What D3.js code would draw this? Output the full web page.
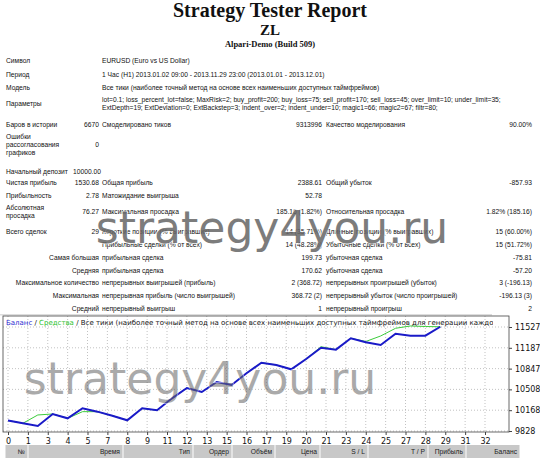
<!DOCTYPE html>
<html><head><meta charset="utf-8">
<script src="https://cdn.jsdelivr.net/npm/d3@7"></script>
<style>
body{margin:0;background:#fff}
text{font-family:"Liberation Sans",Arial,sans-serif;font-size:6.7px;fill:#111}
.ttl{font-family:"Liberation Serif","Times New Roman",serif;font-weight:bold}
.wm{font-family:"DejaVu Sans",sans-serif;font-size:44px;fill:#666;stroke:#fff;stroke-width:1.5px;paint-order:stroke;opacity:.85}
.hdr{font-size:6.7px;fill:#222}
</style></head><body>
<svg id="c" width="540" height="458"></svg>
<script>
// balance / equity by trade number
const BALANCE = [10000, 9954, 9910, 10106, 10035, 10199, 10144, 10078, 10003, 10199, 10166, 10362, 10530, 10465, 10629, 10580, 10771, 10944, 10906, 10836, 11005, 11189, 11157, 11343, 11277, 11233, 11418, 11385, 11385, 11531];
const EQUITY  = [10000, 9954, 10090, 10106, 10035, 10144, 10144, 10078, 10003, 10199, 10166, 10362, 10530, 10465, 10629, 10580, 10771, 10944, 10906, 10836, 11005, 11205, 11157, 11343, 11290, 11380, 11506, 11544, 11535, 11531];
const Y_TICKS = [9828, 10168, 10508, 10847, 11187, 11527];
const X_TICK_LABELS = ["0","1","3","4","5","7","8","9","11","12","13","15","16","17","19","20","21","23","24","25","27","28","29","31","32"];
const HEADERS = ["№","Время","Тип","Ордер","Объём","Цена","S / L","T / P","Прибыль","Баланс"];
const HEADER_EDGES = [5, 28, 123, 193, 232, 275, 320, 368, 428, 466, 520];

const svg = d3.select("#c");

// title
svg.append("text").attr("class","ttl").attr("x",270).attr("y",17).attr("text-anchor","middle").style("font-size","20px").text("Strategy Tester Report");
svg.append("text").attr("class","ttl").attr("x",270).attr("y",35).attr("text-anchor","middle").style("font-size","15px").text("ZL");
svg.append("text").attr("class","ttl").attr("x",270).attr("y",47).attr("text-anchor","middle").style("font-size","8.5px").text("Alpari-Demo (Build 509)");

const t = (x, y, s, anchor) => svg.append("text").attr("x",x).attr("y",y).attr("text-anchor",anchor||"start").text(s);

// info block
t(6,63,"Символ"); t(102,63,"EURUSD (Euro vs US Dollar)");
t(6,77,"Период"); t(102,77,"1 Час (H1) 2013.01.02 09:00 - 2013.11.29 23:00 (2013.01.01 - 2013.12.01)");
t(6,90,"Модель"); t(102,90,"Все тики (наиболее точный метод на основе всех наименьших доступных таймфреймов)");
t(6,106,"Параметры");
t(102,102,"lot=0.1; loss_percent_lot=false; MaxRisk=2; buy_profit=200; buy_loss=75; sell_profit=170; sell_loss=45; over_limit=10; under_limit=35;");
t(102,110,"ExtDepth=19; ExtDeviation=0; ExtBackstep=3; indent_over=2; indent_under=10; magic1=66; magic2=67; filtr=80;");
t(6,127,"Баров в истории"); t(99,127,"6670","end"); t(102,127,"Смоделировано тиков"); t(322,127,"9313996","end"); t(326,127,"Качество моделирования"); t(532,127,"90.00%","end");
t(6,139,"Ошибки"); t(6,147,"рассогласования"); t(6,155,"графиков"); t(99,147,"0","end");
t(6,174,"Начальный депозит"); t(73,174,"10000.00");

const rows = [
  [185,"Чистая прибыль","1530.68","Общая прибыль","2388.61","Общий убыток","-857.93"],
  [198,"Прибыльность","2.78","Матожидание выигрыша","52.78","",""],
  [214,"","76.27","Максимальная просадка","185.16 (1.82%)","Относительная просадка","1.82% (185.16)"],
  [234,"Всего сделок","29","Короткие позиции (% выигравших)","14 (35.71%)","Длинные позиции (% выигравших)","15 (60.00%)"],
  [247,"","","Прибыльные сделки (% от всех)","14 (48.28%)","Убыточные сделки (% от всех)","15 (51.72%)"],
  [260,"","Самая большая","прибыльная сделка","199.73","убыточная сделка","-75.81"],
  [273,"","Средняя","прибыльная сделка","170.62","убыточная сделка","-57.20"],
  [285,"","Максимальное количество","непрерывных выигрышей (прибыль)","2 (368.72)","непрерывных проигрышей (убыток)","3 (-196.13)"],
  [298,"","Максимальная","непрерывная прибыль (число выигрышей)","368.72 (2)","непрерывный убыток (число проигрышей)","-196.13 (3)"],
  [311,"","Средний","непрерывный выигрыш","1","непрерывный проигрыш","2"]
];
rows.forEach(r => {
  if (r[1]) t(6,r[0],r[1]);
  if (r[2]) t(99,r[0],r[2],"end");
  t(102,r[0],r[3]); t(322,r[0],r[4],"end");
  if (r[5]) t(326,r[0],r[5]);
  if (r[6]) t(532,r[0],r[6],"end");
});
t(6,210,"Абсолютная"); t(6,218,"просадка");
svg.append("rect").attr("x",0).attr("y",314).attr("width",492).attr("height",1.5).attr("fill","#ddd");

// chart
const L = 3, R = 509, T = 316, B = 432;
const x = d3.scaleLinear().domain([0,32]).range([8,485]);
const y = d3.scaleLinear().domain([9828,11527]).range([431,327]);

svg.append("rect").attr("x",L).attr("y",T).attr("width",R-L).attr("height",B-T).attr("fill","#fff");
const xTickVals = X_TICK_LABELS.map((d,i) => i*32/24);
const grid = svg.append("g").attr("stroke","#999").attr("stroke-dasharray","1,2").attr("stroke-width",0.6);
grid.selectAll(".v").data(xTickVals).enter().append("line")
  .attr("x1",d=>x(d)).attr("x2",d=>x(d)).attr("y1",T).attr("y2",B);
grid.selectAll(".h").data(Y_TICKS).enter().append("line")
  .attr("x1",L).attr("x2",R).attr("y1",d=>y(d)).attr("y2",d=>y(d));

const line = d3.line().x((d,i)=>x(i)).y(d=>y(d));
svg.append("path").datum(EQUITY).attr("d",line).attr("fill","none").attr("stroke","#3ccc3c").attr("stroke-width",1);
svg.append("path").datum(BALANCE).attr("d",line).attr("fill","none").attr("stroke","#1a1ac8").attr("stroke-width",2);

svg.append("rect").attr("x",L).attr("y",T).attr("width",R-L).attr("height",B-T).attr("fill","none").attr("stroke","#444").attr("stroke-width",0.8);

const xAxis = svg.append("g").attr("transform",`translate(0,${B})`)
  .call(d3.axisBottom(x).tickValues(xTickVals).tickSize(3).tickFormat((d,i)=>X_TICK_LABELS[i]));
const yAxis = svg.append("g").attr("transform",`translate(${R},0)`)
  .call(d3.axisRight(y).tickValues(Y_TICKS).tickSize(3).tickFormat(d3.format("d")));
[xAxis,yAxis].forEach(a => { a.select(".domain").remove(); a.selectAll("line").attr("stroke","#444");
  a.selectAll("text").style("font-family","DejaVu Sans,sans-serif").style("font-size","8px").attr("fill","#111"); });

// legend text, clipped
svg.append("clipPath").attr("id","cl").append("rect").attr("x",L).attr("y",T).attr("width",R-L-16).attr("height",20);
const lg = svg.append("text").attr("clip-path","url(#cl)").attr("x",6).attr("y",325).style("font-family","DejaVu Sans,sans-serif").style("font-size","7px");
lg.append("tspan").attr("fill","#2a2ad0").text("Баланс");
lg.append("tspan").text(" / ");
lg.append("tspan").attr("fill","#2cbf2c").text("Средства");
lg.append("tspan").text(" / Все тики (наиболее точный метод на основе всех наименьших доступных таймфреймов для генерации каждого");

// table header
const hg = svg.append("g");
HEADERS.forEach((h,i) => {
  hg.append("rect").attr("x",HEADER_EDGES[i]+0.5).attr("y",445).attr("width",HEADER_EDGES[i+1]-HEADER_EDGES[i]-1).attr("height",13).attr("fill","#c8c8c8");
  hg.append("text").attr("class","hdr").attr("x",HEADER_EDGES[i+1]-3).attr("y",454).attr("text-anchor","end").text(h);
});

// watermarks
svg.append("text").attr("class","wm").attr("x",272).attr("y",243).attr("text-anchor","middle").text("strategy4you.ru");
svg.append("text").attr("class","wm").attr("x",200).attr("y",394).attr("text-anchor","middle").style("opacity",.55).text("strategy4you.ru");
</script></body></html>
